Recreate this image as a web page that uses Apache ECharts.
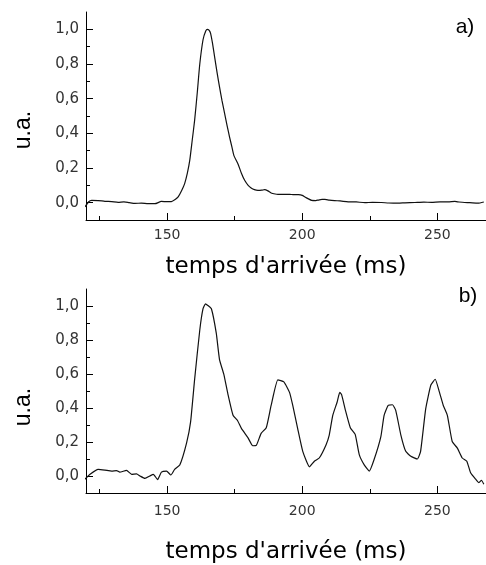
<!DOCTYPE html>
<html>
<head>
<meta charset="utf-8">
<script src="https://cdn.jsdelivr.net/npm/echarts@6/dist/echarts.min.js"></script>
<style>html,body{margin:0;padding:0;background:#fff}#c{width:486px;height:565px}</style>
</head>
<body>
<div id="c"></div>
<script>
// Panel a) : time (ms) and signal (u.a.)
var aTime = [119.6,121,122.1,124.5,127,129.5,131.9,134,136,138.1,140.5,143,145.5,147.9,150,151.6,153,154.1,155.4,156.5,157.5,158.4,159.3,160.2,161.2,162.1,163.3,164.3,164.9,165.5,166.1,166.8,167.6,168.5,169.4,170.3,171.3,172.2,173.1,174,174.7,176.2,177.5,178.7,180,181.1,182.3,183.6,185,186.1,187.3,188.5,190,191,193.4,196,198.6,200,201,202.3,203.5,205,206,207.3,208.4,210,212,214,217,220,223.2,226,229.3,232,235.5,238,241.7,245,247.8,251,254,256.5,258,260.1,262,265,267.2];
var aSignal = [-0.025,0.005,0.013,0.012,0.008,0.006,0.002,0.004,0.0,-0.004,-0.003,-0.006,-0.006,0.007,0.006,0.006,0.018,0.033,0.07,0.11,0.17,0.245,0.36,0.476,0.64,0.8,0.94,0.99,1.0,0.995,0.977,0.92,0.84,0.75,0.668,0.59,0.514,0.445,0.38,0.32,0.273,0.225,0.17,0.129,0.1,0.085,0.075,0.071,0.072,0.075,0.068,0.056,0.05,0.048,0.048,0.047,0.046,0.042,0.033,0.022,0.013,0.012,0.015,0.019,0.019,0.015,0.012,0.01,0.005,0.004,0.0,0.002,0.001,-0.002,-0.003,-0.001,0.001,0.003,0.002,0.005,0.004,0.007,0.004,0.001,0.0,-0.003,0.004];

// Panel b)
var bTime = [119.6,121.5,124.5,127,129.5,131.3,132.5,135,136.9,138.7,140,141.8,143.6,144.9,146.5,147.9,149.8,151.4,152.8,154.7,157.2,158.7,160.2,162.1,163.3,164.2,165.1,166.4,168.2,169.4,171,172.5,174.4,176,177.5,179.9,181.7,183,184.8,186.7,188.5,191,193.2,195.3,196.5,198.3,200.2,202.7,204.5,206.3,208.8,210,211.3,212.9,213.9,214.6,216,217.8,219.6,221.1,223,224.8,226.6,229.1,230.3,231.8,233.4,234.6,236.5,238.3,240.2,242.6,243.8,245.7,247.6,249.2,250.6,252.2,253.7,255.5,257.4,259.2,260.9,262.3,264.2,265.4,266.3,267.2];
var bSignal = [-0.019,0.01,0.039,0.035,0.029,0.032,0.023,0.033,0.01,0.012,0.0,-0.014,0.0,0.01,-0.021,0.023,0.029,0.006,0.039,0.064,0.193,0.318,0.57,0.859,0.984,1.013,1.003,0.984,0.84,0.685,0.598,0.482,0.357,0.328,0.28,0.226,0.178,0.18,0.251,0.284,0.415,0.566,0.554,0.492,0.415,0.28,0.145,0.054,0.087,0.106,0.183,0.241,0.357,0.434,0.492,0.477,0.386,0.284,0.245,0.126,0.064,0.029,0.097,0.232,0.357,0.415,0.419,0.386,0.241,0.145,0.116,0.1,0.145,0.396,0.535,0.569,0.502,0.415,0.357,0.203,0.164,0.106,0.087,0.019,-0.019,-0.039,-0.025,-0.048];

var xMajor = [150, 200, 250];
var xMinor = [125, 175, 225];
var yMajor = [0, 0.2, 0.4, 0.6, 0.8, 1.0];
var yMinor = [0.1, 0.3, 0.5, 0.7, 0.9];
var xTitle = "temps d'arrivée (ms)";
var yTitle = "u.a.";
var panelLabels = ["a)", "b)"];

function pairs(xs, ys) { return xs.map(function (x, i) { return [x, ys[i]]; }); }

var black = '#000';
function xAxes(gridIndex, gap, labelMargin) {
  return [{
    type: 'value', gridIndex: gridIndex, position: 'bottom', min: 120, max: 268,
    axisLine: { show: true, onZero: false, lineStyle: { color: black, width: 1 } },
    axisTick: { show: true, inside: true, length: 4, customValues: xMinor, lineStyle: { color: black } },
    axisLabel: { customValues: xMajor, margin: labelMargin, color: '#333', fontFamily: 'DejaVu Sans', fontSize: 14 },
    splitLine: { show: false },
    name: xTitle, nameLocation: 'middle', nameGap: gap,
    nameTextStyle: { fontFamily: 'DejaVu Sans', fontSize: 23, color: black }
  }, {
    type: 'value', gridIndex: gridIndex, position: 'bottom', offset: 0, min: 120, max: 268,
    axisLine: { show: false, onZero: false },
    axisTick: { show: true, inside: true, length: 7, customValues: xMajor, lineStyle: { color: black } },
    axisLabel: { show: false }, splitLine: { show: false }
  }];
}
function yAxes(gridIndex) {
  return [{
    type: 'value', gridIndex: gridIndex, position: 'left', min: -0.1, max: 1.1,
    axisLine: { show: true, onZero: false, lineStyle: { color: black, width: 1 } },
    axisTick: { show: true, inside: true, length: 4, customValues: yMinor, lineStyle: { color: black } },
    axisLabel: { customValues: yMajor, margin: 7, color: '#333', fontFamily: 'DejaVu Sans', fontSize: 15,
      formatter: function (v) { return v.toFixed(1).replace('.', ','); } },
    splitLine: { show: false }
  }, {
    type: 'value', gridIndex: gridIndex, position: 'left', offset: 0, min: -0.1, max: 1.1,
    axisLine: { show: false, onZero: false },
    axisTick: { show: true, inside: true, length: 7, customValues: yMajor, lineStyle: { color: black } },
    axisLabel: { show: false }, splitLine: { show: false }
  }];
}

var chart = echarts.init(document.getElementById('c'), null, { renderer: 'canvas' });
chart.setOption({
  animation: false,
  backgroundColor: '#fff',
  grid: [
    { left: 86, top: 12, width: 400, height: 208 },
    { left: 86, top: 289, width: 400, height: 208 }
  ],
  xAxis: xAxes(0, 36, 8).concat(xAxes(1, 48, 11)),
  yAxis: yAxes(0).concat(yAxes(1)),
  series: [
    { type: 'line', xAxisIndex: 0, yAxisIndex: 0, data: pairs(aTime, aSignal), showSymbol: false, smooth: 0.2,
      lineStyle: { color: '#111', width: 1.2 }, itemStyle: { color: black } },
    { type: 'line', xAxisIndex: 2, yAxisIndex: 2, data: pairs(bTime, bSignal), showSymbol: false, smooth: 0.15,
      lineStyle: { color: '#111', width: 1.2 }, itemStyle: { color: black } }
  ],
  graphic: [
    { type: 'text', x: 23.5, y: 130, rotation: Math.PI / 2,
      style: { text: yTitle, fontFamily: 'Liberation Sans', fontSize: 23, fill: black, align: 'center', verticalAlign: 'middle' } },
    { type: 'text', x: 23.5, y: 407, rotation: Math.PI / 2,
      style: { text: yTitle, fontFamily: 'Liberation Sans', fontSize: 23, fill: black, align: 'center', verticalAlign: 'middle' } },
    { type: 'text', x: 465, y: 27,
      style: { text: panelLabels[0], fontFamily: 'Liberation Sans', fontSize: 21, fill: black, align: 'center', verticalAlign: 'middle' } },
    { type: 'text', x: 468, y: 296,
      style: { text: panelLabels[1], fontFamily: 'Liberation Sans', fontSize: 21, fill: black, align: 'center', verticalAlign: 'middle' } }
  ]
});
</script>
</body>
</html>
